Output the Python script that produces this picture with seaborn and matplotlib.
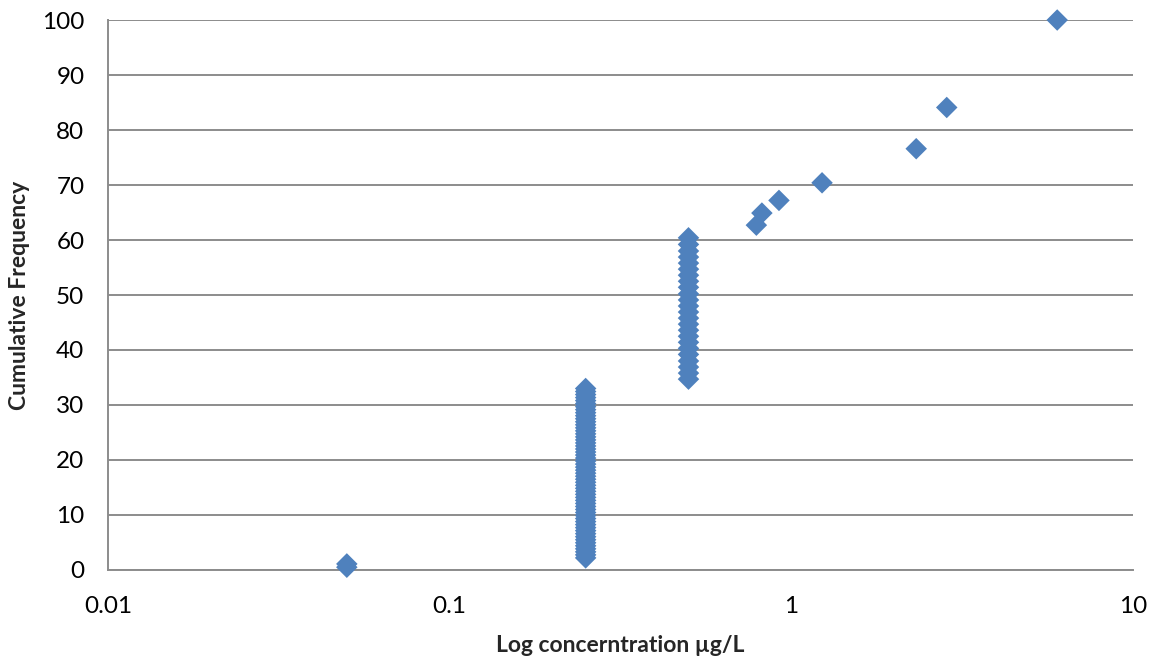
import matplotlib
matplotlib.use("Agg")
import matplotlib.pyplot as plt
import seaborn as sns
import pandas as pd
from matplotlib.ticker import FixedLocator, FixedFormatter, NullLocator

# ---- data ----
conc_low = [0.05, 0.05]
freq_low = [0.5, 1.1]

conc_col1 = [0.25] * 57
freq_col1 = [2.2, 2.75, 3.3, 3.85, 4.4, 4.95, 5.5, 6.05, 6.6, 7.15,
             7.7, 8.25, 8.8, 9.35, 9.9, 10.45, 11.0, 11.55, 12.1, 12.65,
             13.2, 13.75, 14.3, 14.85, 15.4, 15.95, 16.5, 17.05, 17.6, 18.15,
             18.7, 19.25, 19.8, 20.35, 20.9, 21.45, 22.0, 22.55, 23.1, 23.65,
             24.2, 24.75, 25.3, 25.85, 26.4, 26.95, 27.5, 28.05, 28.6, 29.15,
             29.7, 30.25, 30.8, 31.35, 31.9, 32.45, 33.0]

conc_col2 = [0.5] * 24
freq_col2 = [34.7, 35.8, 36.9, 38.0, 39.2, 40.3, 41.4, 42.5, 43.6, 44.7,
             45.8, 46.9, 48.0, 49.1, 50.2, 51.4, 52.5, 53.6, 54.7, 55.8,
             56.9, 58.0, 59.2, 60.4]

conc_high = [0.79, 0.82, 0.92, 1.23, 2.32, 2.85, 6.0]
freq_high = [62.7, 64.9, 67.2, 70.4, 76.6, 84.1, 100.0]

x_ticks = [0.01, 0.1, 1, 10]
x_tick_labels = ["0.01", "0.1", "1", "10"]
y_ticks = [0, 10, 20, 30, 40, 50, 60, 70, 80, 90, 100]

df = pd.DataFrame({
    "conc": conc_low + conc_col1 + conc_col2 + conc_high,
    "freq": freq_low + freq_col1 + freq_col2 + freq_high,
})

sns.set_theme(style="white")
plt.rcParams["font.family"] = ["Lato", "DejaVu Sans"]

fig = plt.figure(figsize=(11.54, 6.63), dpi=100)
ax = fig.add_axes([0.0936, 0.1403, 0.8882, 0.8295])

sns.scatterplot(data=df, x="conc", y="freq", marker="D", s=120,
                color="#4F81BD", edgecolor="none", linewidth=0, ax=ax,
                zorder=3, clip_on=False)

ax.set_xscale("log")
ax.set_xlim(0.01, 10)
ax.set_ylim(0, 100)
ax.xaxis.set_major_locator(FixedLocator(x_ticks))
ax.xaxis.set_major_formatter(FixedFormatter(x_tick_labels))
ax.xaxis.set_minor_locator(NullLocator())
ax.set_yticks(y_ticks)
ax.set_yticklabels([str(v) for v in y_ticks])

ax.grid(axis="y", color="#8c8c8c", linewidth=1.4)
ax.grid(axis="x", visible=False)
ax.set_axisbelow(True)

for side in ["top", "right"]:
    ax.spines[side].set_visible(False)
for side in ["left", "bottom"]:
    ax.spines[side].set_color("#8c8c8c")
    ax.spines[side].set_linewidth(1.4)

ax.tick_params(axis="both", length=0, labelsize=17.5, colors="black")
ax.tick_params(axis="x", pad=19)
ax.tick_params(axis="y", pad=17)

ax.set_xlabel("Log concerntration µg/L", fontsize=16.5, fontweight="bold", labelpad=13)
ax.set_ylabel("Cumulative Frequency", fontsize=16.5, fontweight="bold", labelpad=9)

fig.savefig("out.png", dpi=100)
